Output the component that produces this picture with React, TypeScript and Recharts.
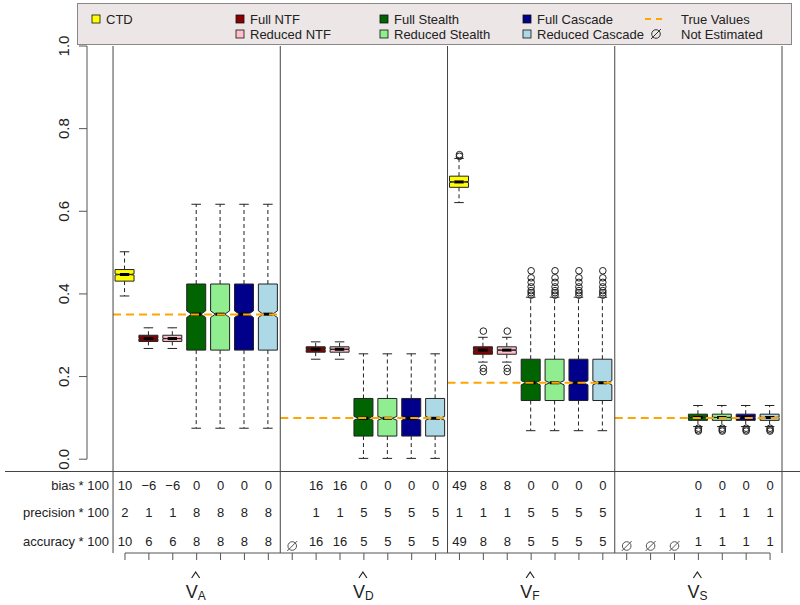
import React from 'react';
import { ComposedChart, Bar, Scatter, XAxis, YAxis, ReferenceLine } from 'recharts';

const METHODS = ['CTD', 'Full NTF', 'Reduced NTF', 'Full Stealth', 'Reduced Stealth', 'Full Cascade', 'Reduced Cascade'];
const FILLS = ['#FFFF00', '#8B0000', '#FFC0CB', '#006400', '#90EE90', '#00008B', '#ADD8E6'];
const PARAMS = ['A', 'D', 'F', 'S'];
const TRUE_VALUES = [0.35, 0.1, 0.185, 0.1];
const N_SIM = 1000; // used for the notch half-height

// [lower whisker, Q1, median, Q3, upper whisker]; null = not estimated
const STATS_A = [
  [0.395, 0.431, 0.447, 0.459, 0.502],
  [0.268, 0.285, 0.292, 0.3, 0.318],
  [0.268, 0.285, 0.292, 0.3, 0.318],
  [0.075, 0.264, 0.351, 0.424, 0.617],
  [0.075, 0.264, 0.351, 0.424, 0.617],
  [0.075, 0.264, 0.351, 0.424, 0.617],
  [0.075, 0.264, 0.351, 0.424, 0.617],
];
const STATS_D = [
  null,
  [0.242, 0.259, 0.266, 0.272, 0.284],
  [0.242, 0.259, 0.266, 0.272, 0.284],
  [0.002, 0.056, 0.099, 0.147, 0.255],
  [0.002, 0.056, 0.099, 0.147, 0.255],
  [0.002, 0.056, 0.099, 0.147, 0.255],
  [0.002, 0.056, 0.099, 0.147, 0.255],
];
const STATS_F = [
  [0.621, 0.658, 0.671, 0.685, 0.728],
  [0.235, 0.254, 0.264, 0.272, 0.295],
  [0.235, 0.254, 0.264, 0.272, 0.295],
  [0.069, 0.142, 0.185, 0.242, 0.392],
  [0.069, 0.142, 0.185, 0.242, 0.392],
  [0.069, 0.142, 0.185, 0.242, 0.392],
  [0.069, 0.142, 0.185, 0.242, 0.392],
];
const STATS_S = [
  null,
  null,
  null,
  [0.079, 0.094, 0.101, 0.109, 0.13],
  [0.079, 0.094, 0.101, 0.109, 0.13],
  [0.079, 0.094, 0.101, 0.109, 0.13],
  [0.079, 0.094, 0.101, 0.109, 0.13],
];

const OUTLIERS_A = [[], [], [], [], [], [], []];
const OUTLIERS_D = [[], [], [], [], [], [], []];
const OUTLIERS_F = [
  [0.733, 0.737],
  [0.31, 0.22, 0.212],
  [0.31, 0.22, 0.212],
  [0.397, 0.403, 0.408, 0.417, 0.428, 0.439, 0.456],
  [0.397, 0.403, 0.408, 0.417, 0.428, 0.439, 0.456],
  [0.397, 0.403, 0.408, 0.417, 0.428, 0.439, 0.456],
  [0.397, 0.403, 0.408, 0.417, 0.428, 0.439, 0.456],
];
const OUTLIERS_S = [[], [], [], [0.075, 0.071, 0.068], [0.075, 0.071, 0.068], [0.075, 0.071, 0.068], [0.075, 0.071, 0.068]];

const BIAS = [
  [10, -6, -6, 0, 0, 0, 0],
  [null, 16, 16, 0, 0, 0, 0],
  [49, 8, 8, 0, 0, 0, 0],
  [null, null, null, 0, 0, 0, 0],
];
const PRECISION = [
  [2, 1, 1, 8, 8, 8, 8],
  [null, 1, 1, 5, 5, 5, 5],
  [1, 1, 1, 5, 5, 5, 5],
  [null, null, null, 1, 1, 1, 1],
];
const ACCURACY = [
  [10, 6, 6, 8, 8, 8, 8],
  [null, 16, 16, 5, 5, 5, 5],
  [49, 8, 8, 5, 5, 5, 5],
  [null, null, null, 1, 1, 1, 1],
];
const ROW_LABELS = ['bias * 100', 'precision * 100', 'accuracy * 100'];

const STATS = [STATS_A, STATS_D, STATS_F, STATS_S];
const OUTLIERS = [OUTLIERS_A, OUTLIERS_D, OUTLIERS_F, OUTLIERS_S];

const chartData = PARAMS.flatMap((p, g) =>
  METHODS.map((m, i) => {
    const s = STATS[g][i];
    return {
      x: g * 7 + i + 1,
      param: p,
      method: m,
      fill: FILLS[i],
      stats: s,
      box: s ? [s[1], s[3]] : null,
      outliers: OUTLIERS[g][i],
      bias: BIAS[g][i],
      precision: PRECISION[g][i],
      accuracy: ACCURACY[g][i],
    };
  })
);
const outlierPoints = chartData.flatMap((d) => d.outliers.map((v) => ({ x: d.x, y: v })));
const byX: Record<number, any> = {};
chartData.forEach((d) => (byX[d.x] = d));

const X_MIN = -0.59;
const X_MAX = 28.5;
const Y_MIN = -0.227;
const FONT = '"Liberation Sans", Arial, Helvetica, sans-serif';
const INK = '#222';
const LINE = '#444';

const BoxShape = (props: any) => {
  const { x, y, width, height, payload } = props;
  if (!payload || !payload.stats || !height) return null;
  const [lo, q1, med, q3, hi] = payload.stats;
  const k = height / (q3 - q1);
  const py = (v: number) => y + (q3 - v) * k;
  const cx = x + width / 2;
  const w = width / 2;
  const notch = (1.58 * (q3 - q1)) / Math.sqrt(N_SIM);
  const xs = [-1, 1, 1, 0.5, 1, 1, -1, -1, -0.5, -1].map((f) => cx + f * w);
  const ys = [q1, q1, med - notch, med, med + notch, q3, q3, med + notch, med, med - notch].map(py);
  const pts = xs.map((xx, i) => `${xx},${ys[i]}`).join(' ');
  return (
    <g>
      <line x1={cx} x2={cx} y1={py(q3)} y2={py(hi)} stroke={INK} strokeDasharray="4 3" />
      <line x1={cx} x2={cx} y1={py(q1)} y2={py(lo)} stroke={INK} strokeDasharray="4 3" />
      <line x1={cx - w / 2} x2={cx + w / 2} y1={py(hi)} y2={py(hi)} stroke={INK} />
      <line x1={cx - w / 2} x2={cx + w / 2} y1={py(lo)} y2={py(lo)} stroke={INK} />
      <polygon points={pts} fill={payload.fill} stroke={INK} strokeWidth={1} />
      <line x1={cx - w / 2} x2={cx + w / 2} y1={py(med)} y2={py(med)} stroke="#000" strokeWidth={3} />
    </g>
  );
};

const OutlierShape = (props: any) => {
  const { cx, cy } = props;
  return <circle cx={cx} cy={cy} r={3.3} fill="none" stroke={INK} strokeWidth={1} />;
};

const NotEst = ({ cx, cy, color = '#555' }: { cx: number; cy: number; color?: string }) => (
  <g>
    <circle cx={cx} cy={cy} r={4.3} fill="none" stroke={color} strokeWidth={1} />
    <line x1={cx - 5} y1={cy + 5} x2={cx + 5} y2={cy - 5} stroke={color} strokeWidth={1} />
  </g>
);

const fmt = (v: number) => (v < 0 ? `\u2212${Math.abs(v)}` : `${v}`);

const ROW_Y = [490, 517, 546];

const XTick = (props: any) => {
  const { x, payload } = props;
  const d = byX[payload.value];
  if (!d) return null;
  const vals = [d.bias, d.precision, d.accuracy];
  const isCenter = (d.x - 4) % 7 === 0;
  return (
    <g fontFamily={FONT}>
      {vals.map((v, r) =>
        v !== null ? (
          <text key={r} x={x} y={ROW_Y[r]} textAnchor="middle" fontSize={13} fill={INK}>
            {fmt(v)}
          </text>
        ) : null
      )}
      {d.stats === null && <NotEst cx={x} cy={546} />}
      {d.x === 1 &&
        ROW_LABELS.map((l, r) => (
          <text key={l} x={x - 16} y={ROW_Y[r]} textAnchor="end" fontSize={13} fill={INK}>
            {l}
          </text>
        ))}
      {isCenter && (
        <g>
          <polyline points={`${x - 5},578 ${x - 1},572 ${x + 3},578`} fill="none" stroke={INK} strokeWidth={1.2} />
          <text x={x - 11} y={598} fontSize={18} fill={INK}>
            V
            <tspan fontSize={12} dy={2}>
              {d.param}
            </tspan>
          </text>
        </g>
      )}
    </g>
  );
};

const YTick = (props: any) => {
  const { x, y, payload } = props;
  const bx = x - 8;
  return (
    <text x={bx} y={y} transform={`rotate(-90, ${bx}, ${y})`} textAnchor="middle" fontSize={15} fill={INK} fontFamily={FONT}>
      {payload.value.toFixed(1)}
    </text>
  );
};

const LEGEND_ROW1 = [
  { label: 'CTD', fill: FILLS[0], col: 0 },
  { label: 'Full NTF', fill: FILLS[1], col: 1 },
  { label: 'Full Stealth', fill: FILLS[3], col: 2 },
  { label: 'Full Cascade', fill: FILLS[5], col: 3 },
];
const LEGEND_ROW2 = [
  { label: 'Reduced NTF', fill: FILLS[2], col: 1 },
  { label: 'Reduced Stealth', fill: FILLS[4], col: 2 },
  { label: 'Reduced Cascade', fill: FILLS[6], col: 3 },
];
// column offsets inside the legend box
const LEG_LEFT = 77;
const LEG_WIDTH = 715;
const COL_X = [15, 159, 303, 446, 579];
const LEG_TEXT_Y = [21, 36];

const LegendBox = () => (
  <div
    style={{
      position: 'absolute',
      left: LEG_LEFT,
      top: 3,
      width: LEG_WIDTH,
      height: 42,
      boxSizing: 'border-box',
      border: '1px solid #888',
      background: '#ECE6E6',
    }}
  >
    <svg width={LEG_WIDTH} height={42} style={{ position: 'absolute', left: -1, top: -1 }} fontFamily={FONT} fontSize={13}>
      {[LEGEND_ROW1, LEGEND_ROW2].map((row, r) =>
        row.map((it) => (
          <g key={it.label}>
            <rect x={COL_X[it.col]} y={LEG_TEXT_Y[r] - 9} width={8} height={8} fill={it.fill} stroke="#111" strokeWidth={0.8} />
            <text x={COL_X[it.col] + 14} y={LEG_TEXT_Y[r]} fill={INK}>
              {it.label}
            </text>
          </g>
        ))
      )}
      <line x1={COL_X[4] - 11} x2={COL_X[4] + 11} y1={LEG_TEXT_Y[0] - 5} y2={LEG_TEXT_Y[0] - 5} stroke="#FFA500" strokeWidth={2} strokeDasharray="6 5" />
      <text x={COL_X[4] + 25} y={LEG_TEXT_Y[0]} fill={INK}>
        True Values
      </text>
      <NotEst cx={COL_X[4]} cy={LEG_TEXT_Y[1] - 5} color="#333" />
      <text x={COL_X[4] + 25} y={LEG_TEXT_Y[1]} fill={INK}>
        Not Estimated
      </text>
    </svg>
  </div>
);

export default function App() {
  return (
    <div style={{ position: 'absolute', left: 0, top: 0, width: 800, height: 605, background: '#fff', fontFamily: FONT }}>
      <ComposedChart width={800} height={605} data={chartData} margin={{ top: 46, right: 18, left: 0, bottom: 0 }}>
        <XAxis
          type="number"
          dataKey="x"
          domain={[X_MIN, X_MAX]}
          ticks={chartData.map((d) => d.x)}
          interval={0}
          allowDataOverflow
          axisLine={false}
          tickLine={{ stroke: '#555' }}
          tickSize={7}
          height={52}
          tick={<XTick />}
        />
        <YAxis
          type="number"
          domain={[Y_MIN, 1]}
          ticks={[0, 0.2, 0.4, 0.6, 0.8, 1]}
          allowDataOverflow
          width={87}
          axisLine={false}
          tickLine={{ stroke: '#555' }}
          tickSize={8}
          tick={<YTick />}
        />
        <Bar dataKey="box" barSize={19} shape={(p: any) => <BoxShape {...p} />} isAnimationActive={false} />
        <Scatter data={outlierPoints} dataKey="y" shape={(p: any) => <OutlierShape {...p} />} isAnimationActive={false} />
        {PARAMS.map((p, g) => (
          <ReferenceLine
            key={`tv-${p}`}
            segment={[
              { x: g * 7 + 0.5, y: TRUE_VALUES[g] },
              { x: g * 7 + 7.5, y: TRUE_VALUES[g] },
            ]}
            stroke="#FFA500"
            strokeWidth={2}
            strokeDasharray="8 5"
            ifOverflow="visible"
          />
        ))}
        {[0.5, 7.5, 14.5, 21.5, 28.5].map((v) => (
          <ReferenceLine key={`sep-${v}`} x={v} stroke={LINE} strokeWidth={1} ifOverflow="visible" />
        ))}
        <ReferenceLine segment={[{ x: X_MIN, y: 0 }, { x: X_MIN, y: 1 }]} stroke="#555" ifOverflow="visible" />
        <ReferenceLine segment={[{ x: 1, y: Y_MIN }, { x: 28, y: Y_MIN }]} stroke="#555" ifOverflow="visible" />
      </ComposedChart>
      <div style={{ position: 'absolute', left: 5, top: 471, width: 795, height: 1, background: LINE }} />
      <LegendBox />
    </div>
  );
}
